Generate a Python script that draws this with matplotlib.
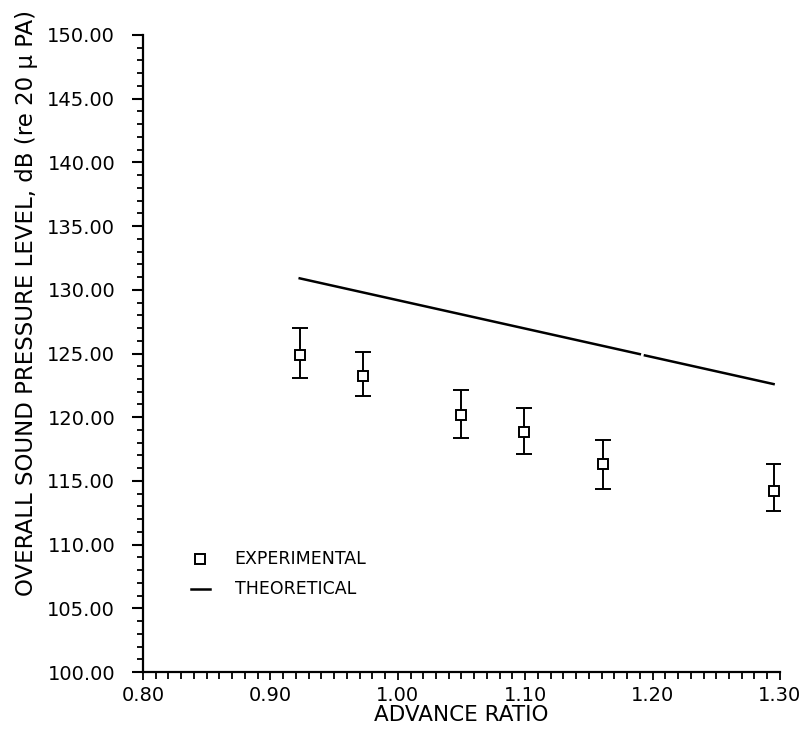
"""Overall sound pressure level versus advance ratio."""

import matplotlib
matplotlib.use("Agg")
import matplotlib.pyplot as plt
import numpy as np
from matplotlib.ticker import FormatStrFormatter, MultipleLocator

# experimental points
advance_ratio = [0.923, 0.973, 1.050, 1.099, 1.161, 1.295]
spl_exp = [124.9, 123.2, 120.2, 118.8, 116.3, 114.2]
spl_upper = [127.0, 125.1, 122.1, 120.7, 118.2, 116.3]
spl_lower = [123.1, 121.7, 118.4, 117.1, 114.4, 112.6]

# theoretical curve (straight line, small break from the original scan)
theory_ratio = [0.923, 1.190, np.nan, 1.194, 1.295]
spl_theory = [130.9, 124.95, np.nan, 124.85, 122.6]

x_ticks = [0.80, 0.90, 1.00, 1.10, 1.20, 1.30]
y_ticks = [100, 105, 110, 115, 120, 125, 130, 135, 140, 145, 150]


def main() -> None:
    fig = plt.figure(figsize=(8.07, 7.38), dpi=100)
    ax = fig.add_axes([0.1772, 0.0894, 0.7893, 0.8632])

    yerr = [
        [c - lo for c, lo in zip(spl_exp, spl_lower)],
        [hi - c for c, hi in zip(spl_exp, spl_upper)],
    ]
    ax.errorbar(
        advance_ratio, spl_exp, yerr=yerr, fmt="s", mfc="white", mec="black",
        ms=7, mew=1.4, ecolor="black", elinewidth=1.4, capsize=6, capthick=1.6,
        zorder=3,
    )
    ax.plot(theory_ratio, spl_theory, color="black", lw=1.8)

    ax.set_xlim(0.80, 1.30)
    ax.set_ylim(100, 150)
    ax.set_xticks(x_ticks)
    ax.set_yticks(y_ticks)
    ax.xaxis.set_minor_locator(MultipleLocator(0.01))
    ax.yaxis.set_minor_locator(MultipleLocator(1))
    ax.xaxis.set_major_formatter(FormatStrFormatter("%.2f"))
    ax.yaxis.set_major_formatter(FormatStrFormatter("%.2f"))

    for side in ("top", "right"):
        ax.spines[side].set_visible(False)
    for side in ("left", "bottom"):
        ax.spines[side].set_linewidth(1.6)

    ax.tick_params(axis="y", which="major", direction="out", length=8, width=1.5,
                   pad=12, labelsize=14)
    ax.tick_params(axis="y", which="minor", direction="out", length=4.5, width=1.3)
    ax.tick_params(axis="x", which="major", direction="out", length=6, width=1.3,
                   pad=4, labelsize=14)
    ax.tick_params(axis="x", which="minor", direction="out", length=5, width=1.3)

    ax.set_xlabel("ADVANCE RATIO", fontsize=15.5, labelpad=0)
    ax.set_ylabel("OVERALL SOUND PRESSURE LEVEL, dB (re 20 \u03bc PA)",
                  fontsize=16.5)
    ax.yaxis.set_label_coords(-0.165, 0.58)

    # legend drawn by hand in axes coordinates
    ax.plot([0.09], [0.178], transform=ax.transAxes, marker="s",
            mfc="white", mec="black", ms=7, mew=1.4, ls="none", clip_on=False)
    ax.plot([0.075, 0.105], [0.131, 0.131], transform=ax.transAxes,
            color="black", lw=1.8)
    ax.text(0.144, 0.178, "EXPERIMENTAL", transform=ax.transAxes,
            fontsize=12.5, va="center", ha="left")
    ax.text(0.144, 0.131, "THEORETICAL", transform=ax.transAxes,
            fontsize=12.5, va="center", ha="left")

    fig.savefig("out.png", dpi=100)


if __name__ == "__main__":
    main()
